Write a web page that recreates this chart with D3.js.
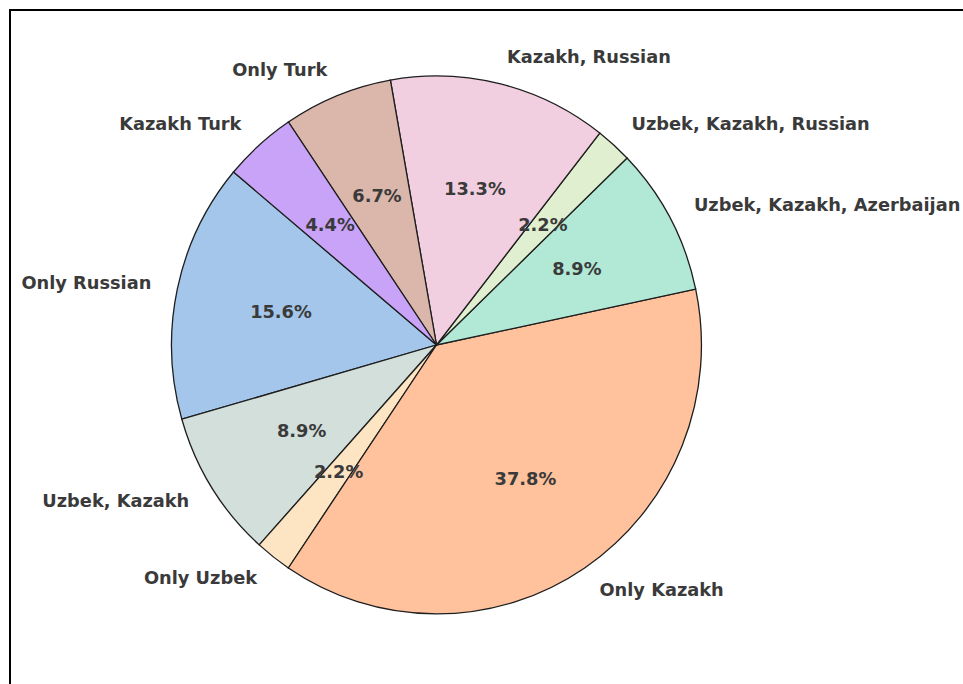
<!DOCTYPE html>
<html>
<head>
<meta charset="utf-8">
<script src="https://cdn.jsdelivr.net/npm/d3@7"></script>
<style>
  html, body { margin: 0; padding: 0; background: #fff; }
  svg { display: block; }
  text { font-family: "DejaVu Sans", sans-serif; font-weight: bold; fill: #3a3a3a; }
</style>
</head>
<body>
<svg id="chart" width="963" height="684"></svg>
<script>
// Language groups (slice order, counter-clockwise from the start angle)
const categories = [
  "Only Russian",
  "Uzbek, Kazakh",
  "Only Uzbek",
  "Only Kazakh",
  "Uzbek, Kazakh, Azerbaijan",
  "Uzbek, Kazakh, Russian",
  "Kazakh, Russian",
  "Only Turk",
  "Kazakh Turk"
];
// Respondent counts per group
const counts = [7, 4, 1, 17, 4, 1, 6, 3, 2];
// Slice fill colours
const colors = [
  "#a3c6ea", "#d2dfda", "#fde4c3", "#ffc29d", "#b1e8d6",
  "#e0efcf", "#f2cfe0", "#dbb6aa", "#c9a3f7"
];

const svg = d3.select("#chart");

// Figure frame
svg.append("rect")
  .attr("x", 10).attr("y", 10)
  .attr("width", 1200).attr("height", 1200)
  .attr("fill", "none").attr("stroke", "#000").attr("stroke-width", 2);

const cx = 436.5, cy = 345, rx = 265, ry = 269;
const deg = Math.PI / 180;
// start 140° counter-clockwise from 3 o'clock -> d3 angle (clockwise from 12 o'clock)
const start = (90 - 140) * deg;

const total = d3.sum(counts);
const pie = d3.pie().sort(null).value(d => d.v)
  .startAngle(start).endAngle(start - 2 * Math.PI);
const data = pie(categories.map((c, i) => ({ c, v: counts[i], col: colors[i] })));

const arc = d3.arc().innerRadius(0).outerRadius(1);

const g = svg.append("g")
  .attr("transform", `translate(${cx},${cy}) scale(${rx},${ry})`);

g.selectAll("path")
  .data(data)
  .join("path")
  .attr("d", arc)
  .attr("fill", d => d.data.col)
  .attr("stroke", "#1e1e1e")
  .attr("stroke-width", 1.3)
  .attr("vector-effect", "non-scaling-stroke");

function unit(d) {
  const a = (d.startAngle + d.endAngle) / 2;
  return [Math.sin(a), -Math.cos(a)];
}

// Category labels outside the pie
svg.append("g").selectAll("text")
  .data(data)
  .join("text")
  .attr("x", d => cx + 1.1 * rx * unit(d)[0])
  .attr("y", d => cy + 1.1 * ry * unit(d)[1])
  .attr("dy", "0.3em")
  .attr("text-anchor", d => unit(d)[0] > 0 ? "start" : "end")
  .attr("font-size", 17.8)
  .text(d => d.data.c);

// Percentage labels inside the slices
svg.append("g").selectAll("text")
  .data(data)
  .join("text")
  .attr("x", d => cx + 0.6 * rx * unit(d)[0])
  .attr("y", d => cy + 0.6 * ry * unit(d)[1])
  .attr("dy", "0.35em")
  .attr("text-anchor", "middle")
  .attr("font-size", 17.8)
  .text(d => (100 * d.data.v / total).toFixed(1) + "%");
</script>
</body>
</html>
